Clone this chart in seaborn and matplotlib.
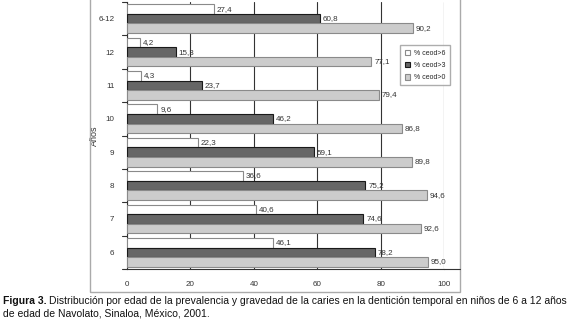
# %% IMPORTS
import matplotlib.pyplot as plt
import matplotlib.patches as mpatches
import pandas as pd
import seaborn as sns

# %% DATA
ages = ["6-12", "12", "11", "10", "9", "8", "7", "6"]
ceod_6 = [27.4, 4.2, 4.3, 9.6, 22.3, 36.6, 40.6, 46.1]
ceod_3 = [60.8, 15.3, 23.7, 46.2, 59.1, 75.2, 74.6, 78.2]
ceod_0 = [90.2, 77.1, 79.4, 86.8, 89.8, 94.6, 92.6, 95.0]
series = ["% ceod>6", "% ceod>3", "% ceod>0"]
x_ticks = [0, 20, 40, 60, 80, 100]

df = pd.DataFrame({
    "Años": ages * 3,
    "valor": ceod_6 + ceod_3 + ceod_0,
    "serie": [s for s in series for _ in ages],
})

# %% PLOT
sns.set_style("white")
plt.rcParams["font.family"] = ["Liberation Sans", "DejaVu Sans"]

fig = plt.figure(figsize=(5.79, 3.36), dpi=100)
ax = fig.add_axes([127 / 579, 1 - 269 / 336, 317 / 579, 267 / 336])

fills = ["#ffffff", "#666666", "#cccccc"]
edges = ["#8a8a8a", "#1a1a1a", "#8a8a8a"]
sns.barplot(
    data=df, y="Años", x="valor", hue="serie", order=ages, hue_order=series,
    palette=fills, orient="h", width=0.86, saturation=1, ax=ax, zorder=3,
)

# Edges and value labels, decimal comma
for cont, ec, vals in zip(ax.containers, edges, [ceod_6, ceod_3, ceod_0]):
    for bar in cont:
        bar.set_edgecolor(ec)
        bar.set_linewidth(0.8)
    ax.bar_label(cont, labels=[f"{v:.1f}".replace(".", ",") for v in vals],
                 padding=2, fontsize=5.8, color="#333333")

ax.set_xlim(0, 100)
ax.set_ylim(len(ages) - 0.5, -0.5)
ax.set_xticks(x_ticks)
ax.set_xticklabels([str(t) for t in x_ticks], fontsize=5.8, color="#333333")
ax.tick_params(axis="y", labelsize=5.8, labelcolor="#333333", length=0, pad=9)
ax.tick_params(axis="x", direction="inout", length=5, width=0.8, color="#333333", pad=6)
ax.grid(axis="x", color="#333333", linewidth=0.8, zorder=0)
ax.set_axisbelow(True)

# Tick marks between groups on the category axis
for b in range(len(ages) + 1):
    ax.plot([-1.5, 0], [b - 0.5, b - 0.5], color="#333333", lw=0.8, clip_on=False)

for side in ["left", "bottom"]:
    ax.spines[side].set_color("#333333")
    ax.spines[side].set_linewidth(0.8)
ax.spines["top"].set_visible(False)
ax.spines["right"].set_visible(False)

ax.set_xlabel("")
ax.set_ylabel("Años", fontsize=6.5, color="#333333")
ax.yaxis.set_label_coords((99 - 127) / 317, 0.5)

leg = ax.legend(
    loc="upper left", bbox_to_anchor=((397 - 127) / 317, (269 - 42) / 267),
    fontsize=5, frameon=True, fancybox=False, edgecolor="#999999",
    handlelength=0.8, handleheight=0.8, labelspacing=0.75, borderpad=0.6,
    handletextpad=0.6,
)
for h, ec in zip(leg.legend_handles, edges):
    h.set_edgecolor(ec)
    h.set_linewidth(0.8)

# Outer chart frame
fig.patches.append(mpatches.Rectangle(
    (90 / 579, 1 - 292 / 336), 370 / 579, 292 / 336 + 0.01,
    transform=fig.transFigure, fill=False, edgecolor="#aaaaaa", lw=1.0,
))
fig.add_artist(plt.Line2D([444 / 579, 460 / 579], [1 - 269 / 336] * 2,
                          transform=fig.transFigure, color="#333333", lw=0.8))

# Caption: bold figure number, then the text right after it
head = fig.text(3 / 579, 1 - 301 / 336, "Figura 3.", fontsize=7.5, fontweight="bold",
                va="center", ha="left", color="#111111")
fig.canvas.draw()
bb = head.get_window_extent().transformed(fig.transFigure.inverted())
fig.text(bb.x1 + 2 / 579, 1 - 301 / 336,
         "Distribución por edad de la prevalencia y gravedad de la caries en la dentición temporal en niños de 6 a 12 años",
         fontsize=7.5, va="center", ha="left", color="#111111")
fig.text(3 / 579, 1 - 313 / 336, "de edad de Navolato, Sinaloa, México, 2001.",
         fontsize=7.5, va="center", ha="left", color="#111111")

fig.savefig("out.png", dpi=100)
